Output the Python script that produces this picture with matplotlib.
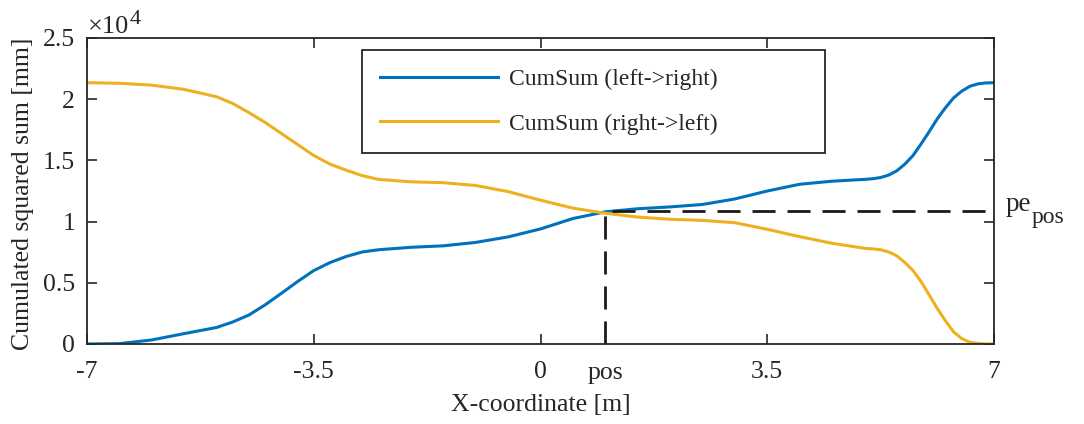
import numpy as np
import matplotlib
matplotlib.use('Agg')
import matplotlib.pyplot as plt
from matplotlib.ticker import FuncFormatter
from matplotlib.transforms import offset_copy

plt.rcParams['font.family'] = ['Liberation Serif', 'DejaVu Serif']

# data (y in mm)
x_pos = [-7.0, -6.5, -6.0, -5.5, -5.0, -4.75, -4.5, -4.25, -4.0, -3.75, -3.5,
         -3.25, -3.0, -2.75, -2.5, -2.0, -1.5, -1.0, -0.5, 0.0, 0.5, 1.0,
         1.5, 2.0, 2.5, 3.0, 3.5, 4.0, 4.5, 5.0, 5.125, 5.25, 5.375, 5.5,
         5.625, 5.75, 5.875, 6.0, 6.125, 6.25, 6.375, 6.5, 6.625, 6.75,
         6.875, 7.0]
cum_left = [0, 30, 330, 850, 1350, 1800, 2370, 3200, 4140, 5100, 6000,
            6650, 7150, 7520, 7700, 7900, 8020, 8300, 8750, 9400, 10250, 10800,
            11050, 11200, 11400, 11850, 12500, 13050, 13300, 13450, 13500, 13600, 13800, 14150,
            14700, 15400, 16350, 17350, 18400, 19300, 20100, 20650, 21050, 21250,
            21330, 21350]
cum_right = [21350, 21300, 21150, 20800, 20200, 19650, 18900, 18100, 17200, 16300, 15400,
             14700, 14200, 13750, 13450, 13250, 13180, 12950, 12450, 11750, 11100, 10680,
             10370, 10190, 10100, 9910, 9370, 8770, 8230, 7820, 7770, 7700, 7520, 7200,
             6650, 6000, 5100, 4000, 2900, 1900, 1000, 450, 150, 40,
             5, 0]

pos = 1.0
pe_pos = 10890

x_ticks = [-7, -3.5, 0, 3.5, 7]
x_labels = ['-7', '-3.5', '0', '3.5', '7']
y_ticks = [0, 5000, 10000, 15000, 20000, 25000]

txt = '#262626'
blue = '#0072BD'
yellow = '#EDB120'
fs = 18.5

fig = plt.figure(figsize=(10.84, 4.24), dpi=100)
ax = fig.add_axes([87 / 1084, 80 / 424, 907 / 1084, 306 / 424])

ax.plot(x_pos, cum_left, color=blue, lw=2.2, label='CumSum (left->right)')
ax.plot(x_pos, cum_right, color=yellow, lw=2.2, label='CumSum (right->left)')
ax.plot([pos, pos, 7], [0, pe_pos, pe_pos], color='#1a1a1a', lw=2.0,
        dashes=(8.3, 4.3))

ax.set_xlim(-7, 7)
ax.set_ylim(0, 25000)
ax.set_xticks(x_ticks)
ax.set_xticklabels(x_labels)
ax.set_yticks(y_ticks)
ax.yaxis.set_major_formatter(FuncFormatter(lambda v, p: '%g' % (v / 1e4)))
ax.tick_params(direction='in', length=7, width=1.2, top=True, right=True,
               labelsize=fs, colors=txt)
ax.tick_params(axis='x', pad=12)
ax.tick_params(axis='y', pad=8.5)
for s in ax.spines.values():
    s.set_color(txt)
    s.set_linewidth(1.3)

ax.set_xlabel('X-coordinate [m]', fontsize=fs, color=txt)
ax.set_ylabel('Cumulated squared sum [mm]', fontsize=fs, color=txt)
ax.xaxis.set_label_coords(0.5, -0.165)
ax.yaxis.set_label_coords(-0.058, 0.49)

# exponent label, MATLAB style
ax.text(0.001, 1.0, '\u00d710', transform=offset_copy(ax.transAxes, fig=fig, y=5, units='dots'),
        fontsize=19, color=txt, ha='left', va='baseline')
ax.text(0.047, 1.0, '4', transform=offset_copy(ax.transAxes, fig=fig, y=14, units='dots'),
        fontsize=16, color=txt, ha='left', va='baseline')

ax.text(pos, -0.095, 'pos', transform=ax.get_xaxis_transform(), fontsize=fs,
        color=txt, ha='center', va='center')
ytr = ax.get_yaxis_transform()
ax.text(1.013, pe_pos, 'pe', transform=ytr, fontsize=fs + 1, color=txt,
        ha='left', va='baseline')
ax.text(1.042, pe_pos, 'pos', transform=offset_copy(ytr, fig=fig, y=-12, units='dots'),
        fontsize=17, color=txt, ha='left', va='baseline')

leg = ax.legend(loc='upper left', bbox_to_anchor=(0.303, 0.627, 0.511, 0.334),
                mode='expand', fontsize=17, handlelength=5.0, handletextpad=0.47,
                borderpad=0.78, labelspacing=0.98, borderaxespad=0, fancybox=False,
                framealpha=1)
leg.get_frame().set_edgecolor(txt)
leg.get_frame().set_linewidth(1.3)
for t in leg.get_texts():
    t.set_color(txt)

fig.savefig('out.png', dpi=100)
